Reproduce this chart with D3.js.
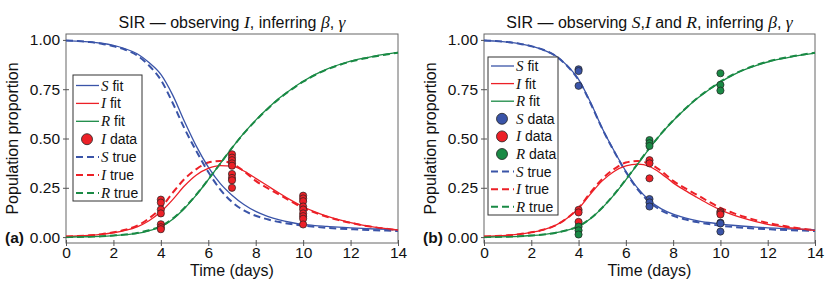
<!DOCTYPE html>
<html>
<head>
<meta charset="utf-8">
<script src="https://cdn.jsdelivr.net/npm/d3@7"></script>
<style>
  body { margin: 0; background: #fff; }
  text { font-family: "Liberation Sans", Arial, sans-serif; fill: #111; }
  .m { font-family: "Liberation Serif", "DejaVu Serif", serif; font-style: italic; }
</style>
</head>
<body>
<div id="chart"></div>
<script>

// time grid (days)
const times = [0,0.5,1,1.5,2,2.5,3,3.5,4,4.5,5,5.5,6,6.5,7,7.5,8,8.5,9,9.5,10,10.5,11,11.5,12,12.5,13,13.5,14];

// true SIR curves
const sTrue = [0.997,0.994,0.989,0.981,0.968,0.950,0.921,0.870,0.797,0.680,0.550,0.435,0.330,0.242,0.178,0.135,0.108,0.090,0.076,0.066,0.058,0.052,0.047,0.043,0.040,0.037,0.035,0.033,0.031];
const iTrue = [0.0033,0.0054,0.009,0.0147,0.024,0.037,0.058,0.095,0.148,0.225,0.295,0.345,0.378,0.386,0.372,0.335,0.285,0.248,0.215,0.180,0.148,0.124,0.103,0.086,0.072,0.060,0.050,0.042,0.035];
const rTrue = [0,0.001,0.002,0.004,0.008,0.013,0.021,0.035,0.055,0.094,0.149,0.216,0.292,0.372,0.452,0.526,0.591,0.650,0.703,0.748,0.788,0.822,0.850,0.872,0.890,0.904,0.916,0.926,0.935];

// fit (a) - observing I only
const sFitA = [0.9965,0.994,0.990,0.983,0.972,0.955,0.930,0.885,0.825,0.720,0.585,0.460,0.355,0.272,0.212,0.165,0.130,0.105,0.087,0.074,0.064,0.058,0.054,0.050,0.047,0.044,0.041,0.039,0.037];
const iFitA = [0.0035,0.0055,0.0088,0.014,0.022,0.034,0.052,0.083,0.128,0.190,0.260,0.315,0.348,0.362,0.360,0.335,0.298,0.260,0.222,0.186,0.154,0.128,0.106,0.088,0.073,0.061,0.051,0.043,0.036];
const rFitA = [0,0.0008,0.002,0.0035,0.007,0.012,0.019,0.032,0.051,0.090,0.146,0.214,0.291,0.372,0.452,0.527,0.593,0.652,0.705,0.750,0.790,0.824,0.852,0.874,0.892,0.906,0.918,0.928,0.937];

// fit (b) - observing S, I and R
const sFitB = [0.997,0.994,0.989,0.981,0.968,0.950,0.922,0.872,0.800,0.685,0.552,0.438,0.334,0.248,0.186,0.143,0.116,0.098,0.084,0.074,0.066,0.060,0.055,0.051,0.047,0.044,0.041,0.039,0.037];
const iFitB = [0.0033,0.0054,0.009,0.0147,0.024,0.037,0.058,0.094,0.145,0.218,0.285,0.333,0.361,0.370,0.358,0.322,0.275,0.237,0.202,0.168,0.138,0.114,0.095,0.079,0.065,0.055,0.046,0.040,0.034];
const rFitB = [0,0.001,0.002,0.004,0.008,0.013,0.021,0.034,0.054,0.093,0.148,0.214,0.290,0.370,0.450,0.525,0.590,0.648,0.701,0.746,0.786,0.820,0.848,0.870,0.888,0.902,0.914,0.924,0.933];

// observations
const obsDays = [4, 7, 10];
const iObsA = [[0.19,0.175,0.14,0.12,0.065,0.05,0.04],
               [0.42,0.403,0.39,0.374,0.362,0.32,0.30,0.288,0.25],
               [0.21,0.196,0.182,0.155,0.14,0.12,0.106,0.093,0.064]];
const sObsB = [[0.851,0.842,0.767],[0.193,0.176,0.155],[0.073,0.069,0.028]];
const iObsB = [[0.138,0.125,0.077],[0.390,0.374,0.298],[0.130,0.122,0.115]];
const rObsB = [[0.053,0.034,0.013],[0.492,0.476,0.462],[0.831,0.772,0.743]];

const xTicks = [0,2,4,6,8,10,12,14];
const yTicks = [0,0.25,0.5,0.75,1];

const col = { S: "#3a54a8", I: "#ec2027", R: "#1a8a45" };

const svg = d3.select("#chart").append("svg")
	.attr("width", 830)
	.attr("height", 290);

const toPts = (vals) => vals.map((v, i) => [times[i], v]);

function panel(opt) {
	const x = d3.scaleLinear().domain([0, 14]).range([opt.x0, opt.x1]);
	const y = d3.scaleLinear().domain([-0.03, 1.03]).range([243, 34]);
	const g = svg.append("g");

	// frame
	g.append("rect")
		.attr("x", opt.x0).attr("y", 34)
		.attr("width", opt.x1 - opt.x0).attr("height", 209)
		.attr("fill", "none").attr("stroke", "#666").attr("stroke-width", 1);

	const ax = g.append("g").attr("transform", "translate(0,243)")
		.call(d3.axisBottom(x).tickValues(xTicks).tickSizeInner(3).tickSizeOuter(0).tickPadding(1));
	ax.selectAll(".tick line").attr("y1", -3).attr("y2", 3);
	const ay = g.append("g").attr("transform", "translate(" + opt.x0 + ",0)")
		.call(d3.axisLeft(y).tickValues(yTicks).tickFormat(d3.format(".2f")).tickSizeInner(3).tickSizeOuter(0).tickPadding(3));
	ay.selectAll(".tick line").attr("x1", -3).attr("x2", 3);
	g.selectAll(".domain").remove();
	g.selectAll(".tick line").attr("stroke", "#555");
	g.selectAll(".tick text").style("font-size", "15.5px").attr("fill", "#111")
		.style("font-family", "'Liberation Sans', Arial, sans-serif");

	const line = d3.line()
		.x(d => x(d[0])).y(d => y(d[1]))
		.curve(d3.curveMonotoneX);

	// true (dashed)
	[["S", sTrue], ["I", iTrue], ["R", rTrue]].forEach(([k, v]) => {
		g.append("path").attr("d", line(toPts(v)))
			.attr("fill", "none").attr("stroke", col[k])
			.attr("stroke-width", 2).attr("stroke-dasharray", "7,4");
	});
	// fits (solid)
	opt.fits.forEach(([k, v]) => {
		g.append("path").attr("d", line(toPts(v)))
			.attr("fill", "none").attr("stroke", col[k])
			.attr("stroke-width", 1.3);
	});
	// observations
	opt.obs.forEach(([k, sets]) => {
		sets.forEach((vals, j) => {
			g.selectAll(null).data(vals).enter().append("circle")
				.attr("cx", x(obsDays[j])).attr("cy", d => y(d))
				.attr("r", 3.6)
				.attr("fill", col[k]).attr("stroke", "#222").attr("stroke-width", 0.7);
		});
	});

	// title
	const cx = (opt.x0 + opt.x1) / 2;
	const t = g.append("text").attr("x", cx).attr("y", 28)
		.attr("text-anchor", "middle").style("font-size", "16px");
	opt.title.forEach(([s, m]) => {
		const ts = t.append("tspan").text(s);
		if (m) ts.attr("class", "m").style("font-size", "17.5px");
	});

	// axis labels
	g.append("text").attr("x", cx).attr("y", 276)
		.attr("text-anchor", "middle").style("font-size", "16px").text("Time (days)");
	g.append("text")
		.attr("transform", "translate(" + (opt.x0 - 48) + ",138.5) rotate(-90)")
		.attr("text-anchor", "middle").style("font-size", "16px").text("Population proportion");
	g.append("text").attr("x", opt.x0 - 61).attr("y", 243)
		.style("font-size", "15.5px").style("font-weight", "bold").text(opt.tag);

	// legend
	const L = opt.legend;
	g.append("rect").attr("x", L.x).attr("y", L.y).attr("width", L.w).attr("height", L.h)
		.attr("fill", "#fff").attr("stroke", "#333").attr("stroke-width", 1);
	L.items.forEach((it, i) => {
		const ry = L.y0 + i * L.step;
		if (it.type === "dot") {
			g.append("circle").attr("cx", L.x + 14).attr("cy", ry).attr("r", 5.5)
				.attr("fill", col[it.k]).attr("stroke", "#222").attr("stroke-width", 0.8);
		} else {
			g.append("line").attr("x1", L.x + 3).attr("x2", L.x + 26)
				.attr("y1", ry).attr("y2", ry)
				.attr("stroke", col[it.k])
				.attr("stroke-width", it.type === "dash" ? 2 : 1.3)
				.attr("stroke-dasharray", it.type === "dash" ? "7,4" : null);
		}
		const tx = g.append("text").attr("x", L.x + 28).attr("y", ry + 5).style("font-size", "14px");
		tx.append("tspan").attr("class", "m").style("font-size", "15px").text(it.k);
		tx.append("tspan").text(" " + it.label);
	});
}

const baseItems = [
	{ k: "S", type: "line", label: "fit" },
	{ k: "I", type: "line", label: "fit" },
	{ k: "R", type: "line", label: "fit" }
];
const trueItems = [
	{ k: "S", type: "dash", label: "true" },
	{ k: "I", type: "dash", label: "true" },
	{ k: "R", type: "dash", label: "true" }
];

panel({
	x0: 66, x1: 398, tag: "(a)",
	fits: [["S", sFitA], ["I", iFitA], ["R", rFitA]],
	obs: [["I", iObsA]],
	title: [["SIR — observing ", false], ["I", true], [", inferring ", false], ["β", true], [", ", false], ["γ", true]],
	legend: { x: 73, y: 75, w: 69, h: 126, y0: 85.5, step: 17.9,
		items: baseItems.concat([{ k: "I", type: "dot", label: "data" }], trueItems) }
});

panel({
	x0: 484, x1: 815, tag: "(b)",
	fits: [["S", sFitB], ["I", iFitB], ["R", rFitB]],
	obs: [["S", sObsB], ["I", iObsB], ["R", rObsB]],
	title: [["SIR — observing ", false], ["S", true], [",", false], ["I", true], [" and ", false], ["R", true],
		[", inferring ", false], ["β", true], [", ", false], ["γ", true]],
	legend: { x: 488, y: 57, w: 70, h: 158, y0: 66, step: 17.6,
		items: baseItems.concat([
			{ k: "S", type: "dot", label: "data" },
			{ k: "I", type: "dot", label: "data" },
			{ k: "R", type: "dot", label: "data" }], trueItems) }
});

</script>
</body>
</html>
